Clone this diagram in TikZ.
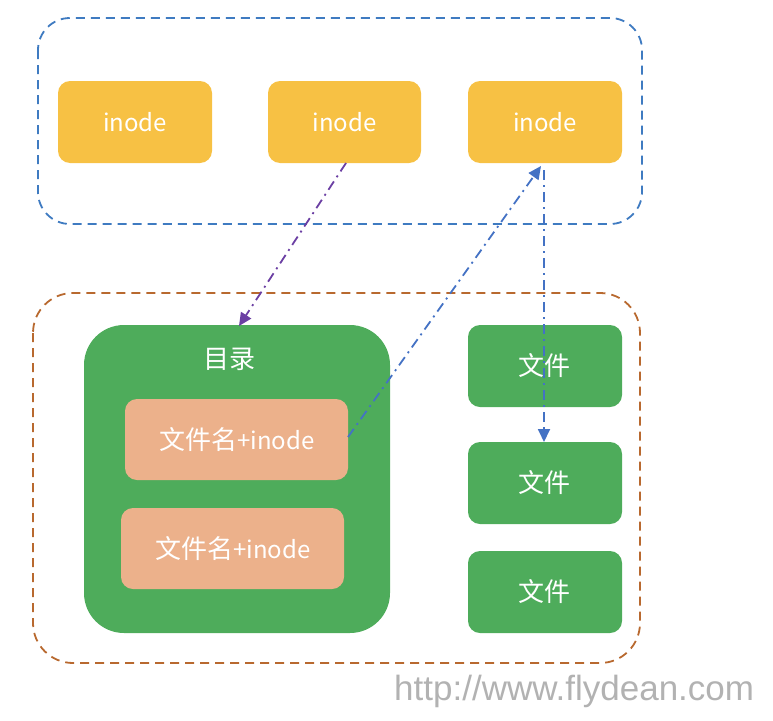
\documentclass[tikz,border=0pt]{standalone}
\usepackage{fontspec}
\setmainfont{Noto Sans CJK SC}
\newfontfamily\wmfont{Liberation Sans}
\usetikzlibrary{arrows.meta}
\definecolor{inodeY}{HTML}{F7C144}
\definecolor{grn}{HTML}{4EAC5B}
\definecolor{peach}{HTML}{ECB18B}
\definecolor{blueD}{HTML}{3F7BC1}
\definecolor{brownD}{HTML}{B8692F}
\definecolor{purp}{HTML}{6B3FA3}
\definecolor{arrB}{HTML}{4472C4}
\newcommand{\zh}[1]{{\fontsize{26}{28}\selectfont #1}}
\tikzset{
  x=1pt, y=-1pt,
  boxfill/.style={rounded corners=12pt},
  lbl/.style={text=white, font=\fontsize{24}{28}\selectfont},
  dashdot/.style={line width=1.8pt, dash pattern=on 10pt off 5pt on 2pt off 5pt},
  outer/.style={line width=1.8pt, dash pattern=on 9pt off 6pt},
  tri/.style={-{Triangle[length=13pt,width=12pt]}},
}
\begin{document}
\begin{tikzpicture}
\useasboundingbox (0,0) rectangle (773,720);
% outer dashed boxes
\draw[blueD, outer, rounded corners=32pt] (38,18) rectangle (642,224);
\draw[brownD, outer, rounded corners=40pt] (33,293) rectangle (640,663);
% inodes
\path[fill=inodeY, boxfill] (58,81) rectangle (212,163);
\node[lbl] (i1) at (135,122) {inode};
\path[fill=inodeY, boxfill] (268,81) rectangle (421,163);
\node[lbl] (i2) at (344.5,122) {inode};
\path[fill=inodeY, boxfill] (468,81) rectangle (622,163);
\node[lbl] (i3) at (545,122) {inode};
\coordinate (i2b) at (346,163);
\coordinate (i3b) at (541,166);
\coordinate (i3v) at (544,170);
% directory
\path[fill=grn, rounded corners=40pt] (84,325) rectangle (390,633);
\node[lbl] (dir) at (229,359) {\zh{目录}};
\coordinate (dirt) at (239,326);
\path[fill=peach, boxfill] (125,399) rectangle (348,480);
\node[lbl] (n1) at (237,439.5) {\zh{文件名}+inode};
\coordinate (n1r) at (348,437);
\path[fill=peach, boxfill] (121,508) rectangle (344,589);
\node[lbl] (n2) at (233,548.5) {\zh{文件名}+inode};
% files
\path[fill=grn, boxfill] (468,325) rectangle (622,407);
\node[lbl] (f1) at (544,366) {\zh{文件}};
\path[fill=grn, boxfill] (468,442) rectangle (622,524);
\node[lbl] (f2) at (544,483) {\zh{文件}};
\coordinate (f2t) at (544,442);
\path[fill=grn, boxfill] (468,551) rectangle (622,633);
\node[lbl] (f3) at (544,592) {\zh{文件}};
% arrows
\draw[purp, dashdot, tri] (i2b) -- (dirt);
\draw[arrB, dashdot, tri] (n1r) -- (i3b);
\draw[arrB, dashdot, tri] (i3v) -- (f2t);
% watermark
\node[anchor=west, text=black!30, font=\wmfont\fontsize{35}{38}\selectfont, inner sep=0pt] (wm) at (394,691) {http://www.flydean.com};
\end{tikzpicture}
\end{document}
